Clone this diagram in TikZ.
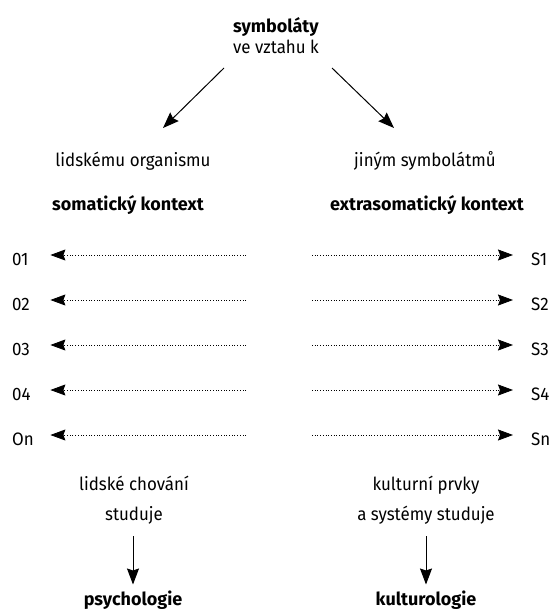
\documentclass[tikz,border=0pt]{standalone}
\usepackage{fontspec}
\setmainfont{Fira Sans}[FakeStretch=0.94, BoldFont={Fira Sans Bold},
    BoldFeatures={FakeStretch=1.0}]
\usetikzlibrary{arrows.meta,positioning}

\begin{document}
\begin{tikzpicture}[x=1pt, y=-1pt, >={Stealth[length=16pt, width=12pt, inset=2pt]},
    font=\fontsize{18}{21}\selectfont]
    % Styles
    \tikzstyle{txt} = [inner sep=0pt, align=center]
    \tikzstyle{head} = [txt, font=\fontsize{18}{21}\selectfont\bfseries]
    \tikzstyle{two} = [txt, font=\fontsize{18}{30}\selectfont]
    \tikzstyle{link} = [->, line width=1pt]
    \tikzstyle{dots} = [->, line width=0.8pt, dash pattern=on 0.8pt off 1.9pt,
        >={Stealth[length=15pt, width=11pt, inset=2pt]}]

    \useasboundingbox (0,0) rectangle (549,610);

    % Top
    \node[txt] (top) at (276,36) {\textbf{symboláty}\\ve vztahu k};
    \coordinate (topl) at (224,68);
    \coordinate (topr) at (332,68);
    \coordinate (tipl) at (163,128);
    \coordinate (tipr) at (394,128);

    % Columns
    \node[txt] (organ) at (133,161) {lidskému organismu};
    \node[txt] (other) at (425,161) {jiným symbolátmů};
    \node[head] (soma) at (128,205) {somatický kontext};
    \node[head] (extra) at (427,205) {extrasomatický kontext};

    \draw[link] (topl) -- (tipl);
    \draw[link] (topr) -- (tipr);

    % Rows
    \foreach \i/\o/\s in {1/01/S1, 2/02/S2, 3/03/S3, 4/04/S4, 5/On/Sn} {
        \node[txt, anchor=west, text width=18pt, align=left] (o\i) at (12,{214+45*\i}) {\o};
        \node[txt, anchor=west, text width=18pt, align=left] (s\i) at (531,{214+45*\i}) {\s};
        \coordinate (ol\i) at (246,{210+45*\i});
        \coordinate (sl\i) at (312,{210+45*\i});
        \draw[dots, shorten >=20pt] (ol\i) -- (o\i.east |- ol\i);
        \draw[dots, shorten >=18pt] (sl\i) -- (s\i.west |- sl\i);
    }

    % Bottom
    \node[two] (behav) at (134,500) {lidské chování\\studuje};
    \node[two] (cult) at (426,500) {kulturní prvky\\a systémy studuje};
    \node[head] (psych) at (133,600) {psychologie};
    \node[head] (kult) at (426,600) {kulturologie};
    \draw[link, shorten <=12pt, shorten >=6pt] (behav.south -| psych) -- (psych.north);
    \draw[link, shorten <=12pt, shorten >=6pt] (cult.south -| kult) -- (kult.north);
\end{tikzpicture}
\end{document}
